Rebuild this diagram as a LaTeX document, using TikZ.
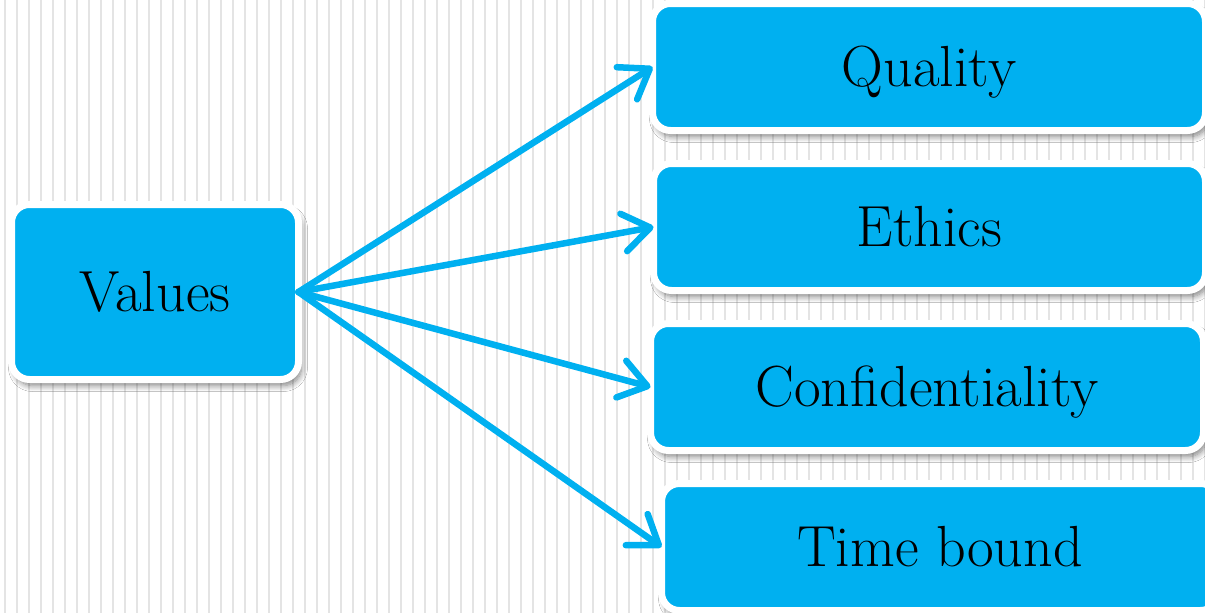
\documentclass[tikz,border=0pt]{standalone}
\usetikzlibrary{arrows.meta,shadows.blur}

\definecolor{skyblue}{RGB}{0,176,240}
\definecolor{stripegray}{RGB}{228,228,228}

\tikzset{
  box/.style={rectangle, rounded corners=18pt, fill=skyblue, draw=white,
    line width=7pt, outer sep=0pt, minimum height=127pt, text height=39pt,
    text depth=0pt, font=\fontsize{58}{64}\selectfont,
    blur shadow={shadow xshift=3pt, shadow yshift=-6pt, shadow blur radius=6pt,
      shadow blur steps=8, shadow opacity=50}},
  link/.style={skyblue, line width=6.5pt, line cap=round,
    -{Straight Barb[length=27pt, width=38pt, line cap=round, line join=round]}},
  stripe/.style={stripegray, line width=1.8pt}
}

\begin{document}
\begin{tikzpicture}[x=1pt, y=-1pt]

  \useasboundingbox (0,0) rectangle (1205,613);

	%background
  \fill[white] (0,0) rectangle (1205,613);
    \foreach \i in {0,...,100}{
         \draw[stripe] (5+12*\i, 0) -- (5+12*\i, 613);
    }

	%left box
  \node[box, minimum width=287pt, minimum height=175pt] (values) at (155,292) {Values};

	%right boxes
    \foreach \x/\y/\w/\txt/\name in { 929/67/553/Quality/quality, 929.5/227/552/Ethics/ethics,
        927/387/553/Confidentiality/conf, 940/547/557/Time bound/time}{
         \node[box, minimum width=\w pt] (\name) at (\x,\y) {\txt};
    }

	%arrows
    \foreach \name in {quality, ethics, conf, time}{
         \draw[link] (values.east) -- (\name.west);
    }

\end{tikzpicture}
\end{document}
